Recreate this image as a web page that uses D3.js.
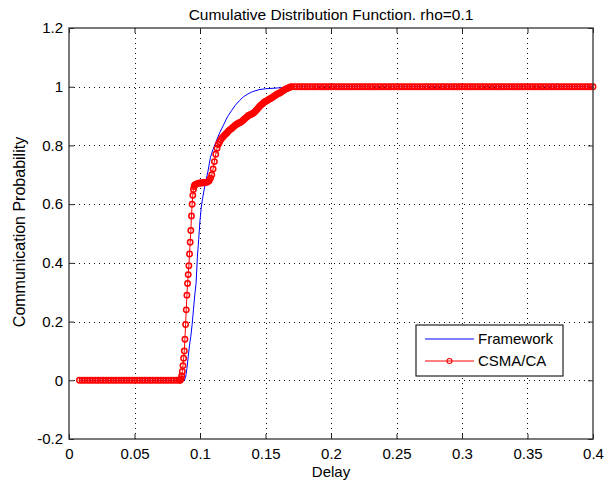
<!DOCTYPE html>
<html>
<head>
<meta charset="utf-8">
<script src="https://cdn.jsdelivr.net/npm/d3@7"></script>
<style>
  body { margin: 0; background: #fff; }
  text { font-family: "Liberation Sans", Arial, sans-serif; fill: #000; }
</style>
</head>
<body>
<script>
let width = 616;
let height = 487;
let marginTop = 28;
let marginRight = 23;
let marginBottom = 48;
let marginLeft = 69;

const xTicks = [0, 0.05, 0.1, 0.15, 0.2, 0.25, 0.3, 0.35, 0.4];
const xTickLabels = ["0", "0.05", "0.1", "0.15", "0.2", "0.25", "0.3", "0.35", "0.4"];
const yTicks = [-0.2, 0, 0.2, 0.4, 0.6, 0.8, 1, 1.2];
const yTickLabels = ["-0.2", "0", "0.2", "0.4", "0.6", "0.8", "1", "1.2"];

const seriesNames = ["Framework", "CSMA/CA"];

// Framework (analytical) curve
const frameworkDelay = [0.008, 0.088, 0.089, 0.090, 0.091, 0.092, 0.093, 0.094, 0.095, 0.096,
  0.097, 0.098, 0.099, 0.100, 0.101, 0.102, 0.103, 0.104, 0.106, 0.108,
  0.110, 0.112, 0.115, 0.118, 0.121, 0.124, 0.127, 0.130, 0.133, 0.136,
  0.140, 0.145, 0.150, 0.160, 0.170, 0.400];
const frameworkProb = [0, 0, 0.01, 0.04, 0.08, 0.12, 0.15, 0.19, 0.24, 0.29,
  0.33, 0.42, 0.48, 0.545, 0.59, 0.62, 0.645, 0.67, 0.71, 0.76,
  0.787, 0.81, 0.843, 0.87, 0.898, 0.918, 0.937, 0.952, 0.965, 0.974,
  0.983, 0.99, 0.993, 0.996, 1, 1];

// CSMA/CA simulated curve
const csmaDelay = [
  0.008, 0.010, 0.012, 0.014, 0.016, 0.018, 0.020, 0.022, 0.024, 0.026,
  0.028, 0.030, 0.032, 0.034, 0.036, 0.038, 0.040, 0.042, 0.044, 0.046,
  0.048, 0.050, 0.052, 0.054, 0.056, 0.058, 0.060, 0.062, 0.064, 0.066,
  0.068, 0.070, 0.072, 0.074, 0.076, 0.078, 0.080, 0.082, 0.084,
  0.0850, 0.0855, 0.0860, 0.0865, 0.0870, 0.0875, 0.0880, 0.0885, 0.0890, 0.0895,
  0.0900, 0.0905, 0.0910, 0.0915, 0.0920, 0.0925, 0.0930, 0.0935, 0.0940, 0.0945,
  0.0950, 0.0955, 0.0960,
  0.097, 0.098, 0.099, 0.100, 0.101, 0.102, 0.103, 0.104, 0.105, 0.106,
  0.107, 0.108, 0.109, 0.110, 0.111, 0.112, 0.113, 0.114, 0.115, 0.116,
  0.117, 0.118, 0.119, 0.120, 0.121, 0.122, 0.123, 0.124, 0.125, 0.126,
  0.127, 0.128, 0.129, 0.130, 0.131, 0.132, 0.133, 0.134, 0.135, 0.136,
  0.137, 0.138, 0.139, 0.140, 0.141, 0.142, 0.143, 0.144, 0.145, 0.146,
  0.147, 0.148, 0.149, 0.150, 0.151, 0.152, 0.153, 0.154, 0.155, 0.156,
  0.157, 0.158, 0.159, 0.160, 0.161, 0.162, 0.163, 0.164, 0.165, 0.166,
  0.167, 0.168, 0.169, 0.170,
  0.172, 0.174, 0.176, 0.178, 0.180, 0.182, 0.184, 0.186, 0.188, 0.190,
  0.192, 0.194, 0.196, 0.198, 0.200, 0.202, 0.204, 0.206, 0.208, 0.210,
  0.212, 0.214, 0.216, 0.218, 0.220, 0.222, 0.224, 0.226, 0.228, 0.230,
  0.232, 0.234, 0.236, 0.238, 0.240, 0.242, 0.244, 0.246, 0.248, 0.250,
  0.252, 0.254, 0.256, 0.258, 0.260, 0.262, 0.264, 0.266, 0.268, 0.270,
  0.272, 0.274, 0.276, 0.278, 0.280, 0.282, 0.284, 0.286, 0.288, 0.290,
  0.292, 0.294, 0.296, 0.298, 0.300, 0.302, 0.304, 0.306, 0.308, 0.310,
  0.312, 0.314, 0.316, 0.318, 0.320, 0.322, 0.324, 0.326, 0.328, 0.330,
  0.332, 0.334, 0.336, 0.338, 0.340, 0.342, 0.344, 0.346, 0.348, 0.350,
  0.352, 0.354, 0.356, 0.358, 0.360, 0.362, 0.364, 0.366, 0.368, 0.370,
  0.372, 0.374, 0.376, 0.378, 0.380, 0.382, 0.384, 0.386, 0.388, 0.390,
  0.392, 0.394, 0.396, 0.398, 0.400
];
const csmaProb = [
  0, 0, 0, 0, 0, 0, 0, 0, 0, 0,
  0, 0, 0, 0, 0, 0, 0, 0, 0, 0,
  0, 0, 0, 0, 0, 0, 0, 0, 0, 0,
  0, 0, 0, 0, 0, 0, 0, 0, 0,
  0, 0.005, 0.015, 0.03, 0.05, 0.075, 0.10, 0.14, 0.19, 0.24,
  0.29, 0.33, 0.36, 0.39, 0.43, 0.47, 0.51, 0.56, 0.60, 0.63,
  0.65, 0.66, 0.665,
  0.668, 0.670, 0.671, 0.672, 0.672, 0.673, 0.673, 0.674, 0.675, 0.676,
  0.680, 0.688, 0.700, 0.720, 0.745, 0.770, 0.790, 0.803, 0.812, 0.820,
  0.826, 0.831, 0.836, 0.840, 0.845, 0.850, 0.854, 0.857, 0.861, 0.865,
  0.869, 0.872, 0.875, 0.877, 0.879, 0.882, 0.886, 0.890, 0.894, 0.898,
  0.902, 0.904, 0.906, 0.908, 0.911, 0.915, 0.920, 0.925, 0.930, 0.935,
  0.939, 0.943, 0.947, 0.950, 0.952, 0.955, 0.958, 0.960, 0.963, 0.966,
  0.969, 0.972, 0.975, 0.977, 0.979, 0.982, 0.985, 0.988, 0.991, 0.993,
  0.995, 0.997, 0.999, 1,
  1, 1, 1, 1, 1, 1, 1, 1, 1, 1,
  1, 1, 1, 1, 1, 1, 1, 1, 1, 1,
  1, 1, 1, 1, 1, 1, 1, 1, 1, 1,
  1, 1, 1, 1, 1, 1, 1, 1, 1, 1,
  1, 1, 1, 1, 1, 1, 1, 1, 1, 1,
  1, 1, 1, 1, 1, 1, 1, 1, 1, 1,
  1, 1, 1, 1, 1, 1, 1, 1, 1, 1,
  1, 1, 1, 1, 1, 1, 1, 1, 1, 1,
  1, 1, 1, 1, 1, 1, 1, 1, 1, 1,
  1, 1, 1, 1, 1, 1, 1, 1, 1, 1,
  1, 1, 1, 1, 1, 1, 1, 1, 1, 1,
  1, 1, 1, 1, 1
];

const framework = frameworkDelay.map((d, i) => ({ delay: d, prob: frameworkProb[i] }));
const csma = csmaDelay.map((d, i) => ({ delay: d, prob: csmaProb[i] }));

const x = d3.scaleLinear()
  .domain([0, 0.4])
  .range([marginLeft, width - marginRight]);

const y = d3.scaleLinear()
  .domain([-0.2, 1.2])
  .range([height - marginBottom, marginTop]);

const svg = d3.select("body")
  .append("svg")
  .attr("width", width)
  .attr("height", height)
  .attr("viewBox", [0, 0, width, height]);

svg.append("rect")
  .attr("width", width)
  .attr("height", height)
  .attr("fill", "#fff");

// dotted grid
const grid = svg.append("g")
  .attr("stroke", "#111")
  .attr("stroke-width", 1)
  .attr("stroke-dasharray", "1,4");

grid.selectAll(".vgrid")
  .data(xTicks.slice(1, -1))
  .join("line")
  .attr("x1", d => Math.round(x(d)) + 0.5)
  .attr("x2", d => Math.round(x(d)) + 0.5)
  .attr("y1", y(1.2))
  .attr("y2", y(-0.2));

grid.selectAll(".hgrid")
  .data(yTicks.slice(1, -1))
  .join("line")
  .attr("x1", x(0))
  .attr("x2", x(0.4))
  .attr("y1", d => Math.round(y(d)) + 0.5)
  .attr("y2", d => Math.round(y(d)) + 0.5);

// axes
function styleAxis(g) {
  g.select(".domain").remove();
  g.selectAll(".tick line").attr("stroke", "#222");
  g.selectAll(".tick text")
    .attr("fill", "#111")
    .style("font-size", "15px");
}

svg.append("g")
  .attr("transform", `translate(0,${height - marginBottom})`)
  .call(d3.axisBottom(x).tickValues(xTicks).tickFormat((d, i) => xTickLabels[i])
    .tickSizeInner(-5).tickSizeOuter(0).tickPadding(9))
  .call(styleAxis);

svg.append("g")
  .attr("transform", `translate(0,${marginTop})`)
  .call(d3.axisTop(x).tickValues(xTicks).tickFormat("")
    .tickSizeInner(-5).tickSizeOuter(0))
  .call(styleAxis);

svg.append("g")
  .attr("transform", `translate(${marginLeft},0)`)
  .call(d3.axisLeft(y).tickValues(yTicks).tickFormat((d, i) => yTickLabels[i])
    .tickSizeInner(-5).tickSizeOuter(0).tickPadding(6))
  .call(styleAxis);

svg.append("g")
  .attr("transform", `translate(${width - marginRight},0)`)
  .call(d3.axisRight(y).tickValues(yTicks).tickFormat("")
    .tickSizeInner(-5).tickSizeOuter(0))
  .call(styleAxis);

// series
const line = d3.line()
  .x(d => x(d.delay))
  .y(d => y(d.prob));

svg.append("path")
  .datum(framework)
  .attr("fill", "none")
  .attr("stroke", "#0000ff")
  .attr("stroke-width", 1)
  .attr("d", line);

svg.append("path")
  .datum(csma)
  .attr("fill", "none")
  .attr("stroke", "#ff0000")
  .attr("stroke-width", 1)
  .attr("d", line);

svg.append("g")
  .attr("fill", "none")
  .attr("stroke", "#ff0000")
  .attr("stroke-width", 1.5)
  .selectAll("circle")
  .data(csma)
  .join("circle")
  .attr("cx", d => x(d.delay))
  .attr("cy", d => y(d.prob))
  .attr("r", 2.7);

// box
svg.append("rect")
  .attr("x", x(0))
  .attr("y", y(1.2))
  .attr("width", x(0.4) - x(0))
  .attr("height", y(-0.2) - y(1.2))
  .attr("fill", "none")
  .attr("stroke", "#333")
  .attr("stroke-width", 1.3);

// title and labels
svg.append("text")
  .attr("x", (marginLeft + width - marginRight) / 2)
  .attr("y", 20)
  .attr("text-anchor", "middle")
  .style("font-size", "15.5px")
  .text("Cumulative Distribution Function. rho=0.1");

svg.append("text")
  .attr("x", (marginLeft + width - marginRight) / 2)
  .attr("y", 477)
  .attr("text-anchor", "middle")
  .style("font-size", "15px")
  .text("Delay");

svg.append("text")
  .attr("transform", `translate(25,${232}) rotate(-90)`)
  .attr("text-anchor", "middle")
  .style("font-size", "16px")
  .text("Communication Probability");

// legend
const legend = svg.append("g")
  .attr("transform", "translate(416,325)");

legend.append("rect")
  .attr("width", 147)
  .attr("height", 51)
  .attr("fill", "#fff")
  .attr("stroke", "#222")
  .attr("stroke-width", 1.2);

const colors = ["#0000ff", "#ff0000"];
seriesNames.forEach((name, i) => {
  const ly = 14 + i * 22;
  legend.append("line")
    .attr("x1", 9)
    .attr("x2", 58)
    .attr("y1", ly)
    .attr("y2", ly)
    .attr("stroke", colors[i])
    .attr("stroke-width", 1);
  if (i === 1) {
    legend.append("circle")
      .attr("cx", 33.5)
      .attr("cy", ly)
      .attr("r", 2.5)
      .attr("fill", "none")
      .attr("stroke", colors[i])
      .attr("stroke-width", 1.1);
  }
  legend.append("text")
    .attr("x", 62)
    .attr("y", ly)
    .attr("dy", "0.35em")
    .style("font-size", "15px")
    .text(name);
});
</script>
</body>
</html>
